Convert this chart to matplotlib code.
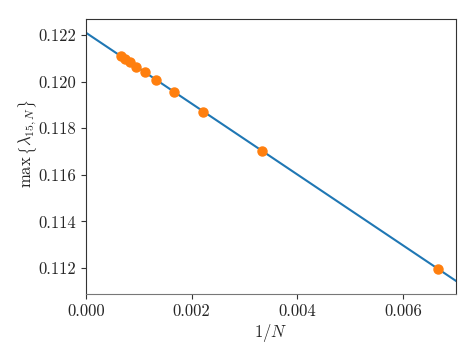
import matplotlib
matplotlib.use("Agg")
import matplotlib.pyplot as plt

plt.rcParams['font.family'] = 'serif'
plt.rcParams['font.serif'] = ['cmr10']
plt.rcParams['mathtext.fontset'] = 'cm'
plt.rcParams['axes.unicode_minus'] = False

# data
N_values = [150, 300, 450, 600, 750, 900, 1050, 1200, 1350, 1500]
inv_N = [1.0 / n for n in N_values]
max_lambda = [0.11195, 0.11701, 0.11871, 0.11956, 0.12006, 0.12040, 0.12064, 0.12082, 0.12096, 0.12108]
fit_x = [0.0, 0.0075]
fit_y = [0.12209, 0.11069]

x_ticks = [0.000, 0.002, 0.004, 0.006]
y_ticks = [0.112, 0.114, 0.116, 0.118, 0.120, 0.122]

fig = plt.figure(figsize=(4.76, 3.57), dpi=100)
ax = fig.add_axes([0.1807, 0.1765, 0.958 - 0.1807, 0.9468 - 0.1765])

ax.plot(fit_x, fit_y, color='#1f77b4', lw=1.5, zorder=2)
ax.plot(inv_N, max_lambda, 'o', color='#ff7f0e', markersize=6.5, zorder=3)

ax.set_xlim(0, 0.007)
ax.set_ylim(0.11089, 0.12268)
ax.set_xticks(x_ticks)
ax.set_xticklabels([f"{v:.3f}" for v in x_ticks])
ax.set_yticks(y_ticks)
ax.set_yticklabels([f"{v:.3f}" for v in y_ticks])
ax.tick_params(labelsize=12, color='#333333', labelcolor='#262626', length=3.5)

for s in ['left', 'right', 'top']:
    ax.spines[s].set_color('#333333')
ax.spines['bottom'].set_color('#777777')

ax.set_xlabel(r'$1/N$', fontsize=12, color='#262626', labelpad=2)
ax.set_ylabel(r'$\max\,\left\{\lambda_{15,N}\right\}$', fontsize=12, color='#262626')
ax.yaxis.set_label_coords(-0.128, 0.545)

fig.savefig('out.png', dpi=100)
